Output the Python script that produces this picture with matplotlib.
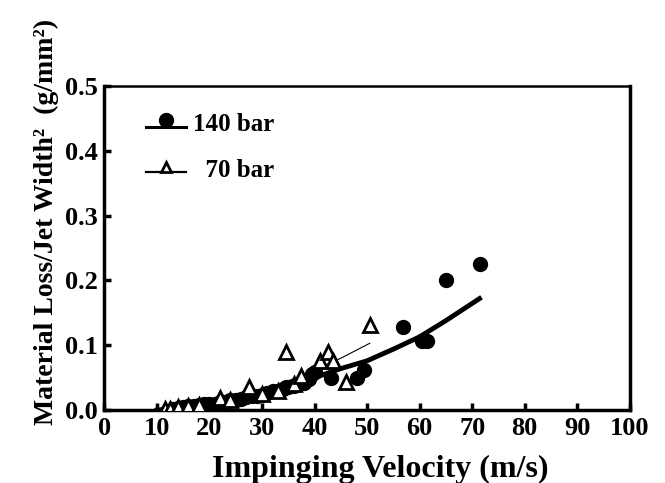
import numpy as np
import matplotlib.pyplot as plt
from matplotlib.lines import Line2D
from matplotlib.legend_handler import HandlerLine2DCompound

plt.rcParams["font.family"] = ["Liberation Serif", "DejaVu Serif"]
plt.rcParams["font.weight"] = "bold"

# --------------------------------------------------
# Data
# --------------------------------------------------

v140 = [13, 14, 15, 16, 17, 18, 19, 20, 21, 22, 23, 24, 25, 26, 27, 28, 29,
        30, 31, 32, 33, 34, 34.6, 35, 36, 37, 37.7, 38, 39, 39.5, 40, 43.2,
        48, 49.5, 56.8, 60.4, 61.5, 65.1, 71.4]
m140 = [0.002, 0.003, 0.005, 0.006, 0.006, 0.008, 0.009, 0.010, 0.010, 0.012,
        0.013, 0.015, 0.016, 0.017, 0.020, 0.022, 0.021, 0.023, 0.027, 0.030,
        0.030, 0.033, 0.035, 0.036, 0.037, 0.040, 0.042, 0.042, 0.048, 0.055,
        0.058, 0.049, 0.050, 0.062, 0.128, 0.106, 0.106, 0.200, 0.225]

v70 = [11.5, 12.5, 14, 16, 18, 22, 24, 27.5, 30, 33, 34.5, 36, 37.5, 41,
       42.5, 43.5, 46, 50.5]
m70 = [0.001, 0.002, 0.004, 0.006, 0.008, 0.018, 0.015, 0.035, 0.025, 0.030,
       0.090, 0.040, 0.052, 0.075, 0.090, 0.075, 0.043, 0.132]

fit140_v = [10, 15, 20, 25, 30, 35, 40, 45, 50, 55, 60, 65, 71.4]
fit140_m = [0.0, 0.004, 0.009, 0.016, 0.024, 0.036, 0.050, 0.064, 0.076,
            0.094, 0.113, 0.138, 0.172]

fit70_v = [12, 20, 25, 30, 35, 40, 45, 50.5]
fit70_m = [0.0, 0.011, 0.019, 0.030, 0.045, 0.062, 0.080, 0.103]

labels = ["140 bar", "  70 bar"]


# legend marker sits on top of the line, like in the original figure
class RaisedMarker(HandlerLine2DCompound):
    def __init__(self, lift, **kw):
        super().__init__(**kw)
        self.lift = lift

    def create_artists(self, legend, orig_handle, xdescent, ydescent,
                       width, height, fontsize, trans):
        arts = super().create_artists(legend, orig_handle, xdescent, ydescent,
                                      width, height, fontsize, trans)
        line, marker = arts
        y = line.get_ydata()[0] - height * 0.25
        line.set_ydata([y, y])
        marker.set_ydata([y + self.lift] * len(marker.get_xdata()))
        return arts


# --------------------------------------------------
# Plot
# --------------------------------------------------

fig = plt.figure(figsize=(6.65, 4.83), dpi=100)
ax = fig.add_axes([0.157, 0.151, 0.790, 0.671])

ax.plot(fit140_v, fit140_m, color="black", lw=3.5, zorder=2)
ax.plot(fit70_v, fit70_m, color="black", lw=0.8, zorder=2)

ax.plot(v140, m140, "o", color="black", ms=10, zorder=3)
ax.plot(v70, m70, "^", mfc="white", mec="black", mew=2, ms=10, zorder=4)

ax.set_xlim(0, 100)
ax.set_ylim(0, 0.5)
ax.set_xticks(np.arange(0, 101, 10))
ax.set_yticks(np.arange(0, 0.51, 0.1))
ax.set_yticklabels(["0.0", "0.1", "0.2", "0.3", "0.4", "0.5"])

ax.tick_params(direction="in", length=5, width=2.5, labelsize=19, pad=5)
for s in ["left", "bottom", "right"]:
    ax.spines[s].set_linewidth(2.5)
ax.spines["top"].set_linewidth(1.8)

ax.set_xlabel("Impinging Velocity (m/s)", fontsize=23, fontweight="bold",
              labelpad=11, x=0.525)
ax.set_ylabel("Material Loss/Jet Width\u00b2  (g/mm\u00b2)", fontsize=20,
              fontweight="bold", labelpad=4, y=0.58)

h140 = Line2D([], [], color="black", lw=2.2, marker="o", ms=10)
h70 = Line2D([], [], color="black", lw=1.6, marker="^", mfc="white",
             mec="black", mew=2, ms=7)
ax.legend([h140, h70], labels, loc="upper left",
          bbox_to_anchor=(0.055, 0.955), frameon=False, fontsize=18,
          borderpad=0, handlelength=1.6, labelspacing=0.9, handletextpad=0.3,
          handler_map={h140: RaisedMarker(5), h70: RaisedMarker(3.5)})

plt.savefig("out.png", dpi=100)
plt.close()
